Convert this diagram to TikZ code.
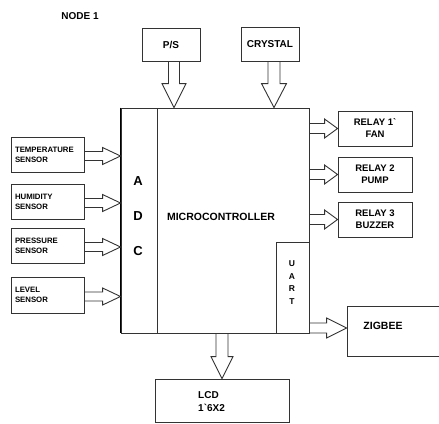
\documentclass[tikz,border=0pt]{standalone}
\usepackage{fontspec}
\setmainfont{Liberation Sans}
\usetikzlibrary{calc}
\newcommand\hblockarrow[5]{%
  \draw[arr] let \p1=(#1), \p2=(#2) in
    (\x1,\y2+#3) -- (\x2-#5,\y2+#3) -- (\x2-#5,\y2+#4) -- (\x2,\y2)
    -- (\x2-#5,\y2-#4) -- (\x2-#5,\y2-#3) -- (\x1,\y2-#3);}
\newcommand\vblockarrow[5]{%
  \draw[arr] let \p1=(#1), \p2=(#2) in
    (\x2-#3,\y1) -- (\x2-#3,\y2+#5) -- (\x2-#4,\y2+#5) -- (\x2,\y2)
    -- (\x2+#4,\y2+#5) -- (\x2+#3,\y2+#5) -- (\x2+#3,\y1);}
\tikzset{
  box/.style={draw=black!80, line width=0.9pt, rectangle, inner sep=0pt, font=\bfseries},
  sens/.style={box, minimum width=73pt, minimum height=35pt, align=left, text width=65pt,
    font=\bfseries\fontsize{7.8}{10}\selectfont},
  relay/.style={box, minimum width=74pt, minimum height=35pt, align=center,
    font=\bfseries\fontsize{9.5}{12}\selectfont},
  arr/.style={draw=black!80, line width=0.9pt, line join=miter},
  lbl/.style={inner sep=0pt, font=\bfseries\fontsize{10}{12}\selectfont},
}
\begin{document}
\begin{tikzpicture}[x=1pt, y=-1pt]
\useasboundingbox (0,0) rectangle (439,423);
\clip (0,0) rectangle (439,423);

% title
\node[lbl] (title) at (80,16) {NODE 1};

% top boxes
\node[box, minimum width=58pt, minimum height=33pt, font=\bfseries\fontsize{10}{12}\selectfont] (ps) at (171,44.5) {P/S};
\node[box, minimum width=58pt, minimum height=34pt, font=\bfseries\fontsize{10}{12}\selectfont] (cr) at (270,44) {CRYSTAL};

% main block
\node[box, minimum width=188pt, minimum height=225pt] (main) at (215,220.5) {};
\node[box, minimum width=36pt, minimum height=225pt] (adc) at (139,220.5) {};
\node[box, minimum width=33pt, minimum height=91pt] (uart) at (292.5,287.5) {};
\draw[line width=1.7pt] (main.north west) -- (main.south west);
\node[inner sep=0pt, align=center, font=\bfseries\fontsize{13}{35}\selectfont] (adct) at (138,216) {A\\D\\C};
\node[inner sep=0pt, align=center, font=\bfseries\fontsize{8.5}{12.8}\selectfont] (uartt) at (292,282.5) {U\\A\\R\\T};
\node[lbl, font=\bfseries\fontsize{10.5}{12}\selectfont] (mc) at (221,217) {MICROCONTROLLER};

% sensors
\node[sens] (temp) at (47.5,154.5) {TEMPERATURE\\SENSOR};
\node[sens] (hum) at (47.5,201.5) {HUMIDITY\\SENSOR};
\node[sens] (pres) at (47.5,245.5) {PRESSURE\\SENSOR};
\node[sens, minimum height=36pt] (lev) at (47.5,295) {LEVEL\\SENSOR};

% relays
\node[relay] (r1) at (375,128.5) {RELAY 1\textasciigrave\\FAN};
\node[relay] (r2) at (375,174.5) {RELAY 2\\PUMP};
\node[relay] (r3) at (375,219.5) {RELAY 3\\BUZZER};

% zigbee
\node[box, minimum width=98pt, minimum height=50pt] (zig) at (396,331) {};
\node[lbl, font=\bfseries\fontsize{10.5}{12}\selectfont] (zigt) at (383,326) {ZIGBEE};

% lcd
\node[box, minimum width=134pt, minimum height=43pt] (lcd) at (222,400.5) {};
\node[lbl, anchor=west, align=left, font=\bfseries\fontsize{10}{13}\selectfont] (lcdt) at (198,401.5) {LCD\\1\textasciigrave 6X2};

% arrows: sensors -> ADC
\foreach \s/\t in {temp/t1,hum/t2,pres/t3,lev/t4}{
  \path (\s.east -| main.west) ++(0,1.5) coordinate (\t);
  \hblockarrow{\s.east}{\t}{4.5pt}{8.5pt}{18pt}
}
% arrows: main -> relays
\foreach \r in {r1,r2,r3}{
  \hblockarrow{main.east}{\r.west}{5pt}{9.5pt}{13pt}
}
% uart -> zigbee
\path (zig.west) ++(0,-3) coordinate (zt);
\hblockarrow{main.east}{zt}{5pt}{10pt}{20pt}
% top arrows
\path (ps.south |- main.north) ++(3,0) coordinate (pt);
\vblockarrow{ps.south}{pt}{5.5pt}{12pt}{24pt}
\path (cr.south |- main.north) ++(4,0) coordinate (ct);
\vblockarrow{cr.south}{ct}{6pt}{12.5pt}{24pt}
% main -> lcd
\vblockarrow{main.south}{lcd.north}{6pt}{11pt}{22pt}
\end{tikzpicture}
\end{document}
